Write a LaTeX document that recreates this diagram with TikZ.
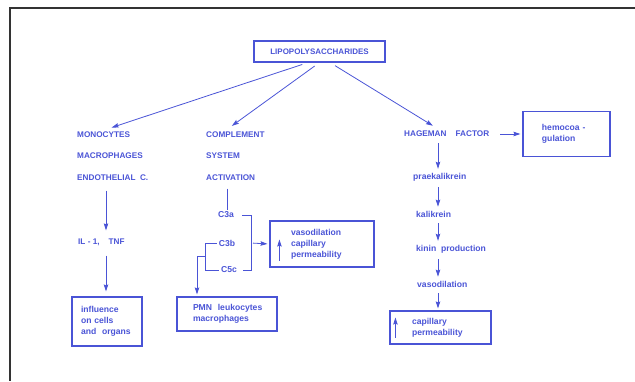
\documentclass[tikz,border=0pt]{standalone}
\usepackage{fontspec}
\setmainfont{Liberation Sans}
\usetikzlibrary{arrows.meta, positioning, calc}
\definecolor{lpsblue}{RGB}{74,84,214}

\begin{document}
\begin{tikzpicture}[x=1pt, y=-1pt,
  t/.style={text=lpsblue,font=\bfseries\fontsize{8.2}{10.5}\selectfont,inner sep=2pt,anchor=west,align=left},
  s/.style={text=lpsblue,font=\bfseries\fontsize{8.6}{10.5}\selectfont,inner sep=2pt,anchor=west,align=left},
  b/.style={draw=lpsblue,line width=1.1pt,text=lpsblue,font=\bfseries\fontsize{8.6}{10.8}\selectfont,align=left},
  ar/.style={-{Stealth[length=7pt,width=4.5pt,inset=1pt]},draw=lpsblue,line width=0.8pt,shorten <=4pt,shorten >=2pt},
  ln/.style={draw=lpsblue,line width=0.8pt}]
  \useasboundingbox (0,0) rectangle (635,381);
  \draw[line width=1.2pt,black!80] (635,8) -- (10,8) -- (10,381);

  \node[b,font=\bfseries\fontsize{8}{10}\selectfont,minimum width=131pt,minimum height=21pt,align=center](lps) at (319.5,51.5){LIPOPOLYSACCHARIDES};
  \node[t,font=\bfseries\fontsize{8.2}{21.5}\selectfont](mono) at (75,156){MONOCYTES\\MACROPHAGES\\ENDOTHELIAL\ \ C.};
  \node[t,font=\bfseries\fontsize{8.2}{21.5}\selectfont](comp) at (204,156){COMPLEMENT\\SYSTEM\\ACTIVATION};
  \node[t](hf) at (402,134){HAGEMAN\ \ \ \ FACTOR};
  \node[b,right=31pt of hf,text width=49pt,inner xsep=19pt,minimum height=45pt](hbox){hemocoa -\\gulation};

  % left column
  \node[t](il) at (76,242){IL - 1,\ \ \ \ TNF};
  \node[b,text width=52pt,inner xsep=9pt,minimum height=49pt](infl) at (107,321.5){influence\\on cells\\and\ \ organs};

  % complement
  \node[s,anchor=center](c3a) at (226,215){C3a};
  \node[s,anchor=center](c3b) at (227,243){C3b};
  \node[s,anchor=center](c5c) at (229,270){C5c};
  \node[b,text width=62pt,inner xsep=21pt,minimum height=46pt](vbox) at (322,244){vasodilation\\capillary\\permeability};
  \node[b,text width=76pt,inner xsep=12pt,minimum height=34pt](pmn) at (227,314){\hspace*{4pt}PMN\ \ leukocytes\\\hspace*{4pt}macrophages};

  % hageman chain
  \node[s](pk) at (411,177){praekalikrein};
  \node[s](ka) at (414,214){kalikrein};
  \node[s](kp) at (414,249){kinin\ \ production};
  \node[s](vd) at (415,284){vasodilation};
  \node[b,text width=57pt,inner xsep=22pt,minimum height=33pt](cbox) at (440.5,327.5){capillary\\permeability};

  \coordinate (lx) at (106,0);
  \coordinate (cx) at (227,0);
  \coordinate (ax) at (438,0);
  \coordinate (br) at (251,0);
  \coordinate (bl) at (205,0);
  \coordinate (pa) at (197,0);

  \draw[ar,shorten <=6pt,shorten >=6pt]([xshift=-11.5pt]lps.south)--(mono.north -| lx);
  \draw[ar,shorten <=6pt,shorten >=6pt](lps.south)--(comp.north -| cx);
  \draw[ar,shorten <=6pt,shorten >=6pt]([xshift=10.5pt]lps.south)--(hf.north -| ax);

  \draw[ar,shorten <=8pt,shorten >=6pt](mono.south -| lx)--(il.north -| lx);
  \draw[ar,shorten <=8pt,shorten >=5pt](il.south -| lx)--(infl.north -| lx);

  \draw[ln,shorten <=6pt](comp.south -| cx)--(c3a.north -| cx);
  \draw[ln,shorten <=6pt,shorten >=4pt](c3a.east)--(c3a.east -| br)--(c5c.east -| br)--(c5c.east);
  \draw[ar,shorten <=2pt](c3b -| br)--(vbox.west);
  \draw[ln](c3b.west)--(c3b.west -| bl)--(c5c.west -| bl)--(c5c.west);
  \coordinate (bm) at ($(c3b.west -| bl)!0.5!(c5c.west -| bl)$);
  \draw[ar,shorten <=0pt](bm) -| (pmn.north -| pa);
  \draw[ar,shorten <=0pt,shorten >=0pt]([xshift=10pt,yshift=7pt]vbox.south west)--++(0,-21);

  \draw[ar,shorten <=9pt](hf.east)--(hbox.west);
  \foreach \x/\y in {hf/pk,pk/ka,ka/kp,kp/vd,vd/cbox}{\draw[ar](\x.south -| ax)--(\y.north -| ax);}
  \draw[ar,shorten <=0pt,shorten >=0pt]([xshift=6pt,yshift=7pt]cbox.south west)--++(0,-20);
\end{tikzpicture}
\end{document}
